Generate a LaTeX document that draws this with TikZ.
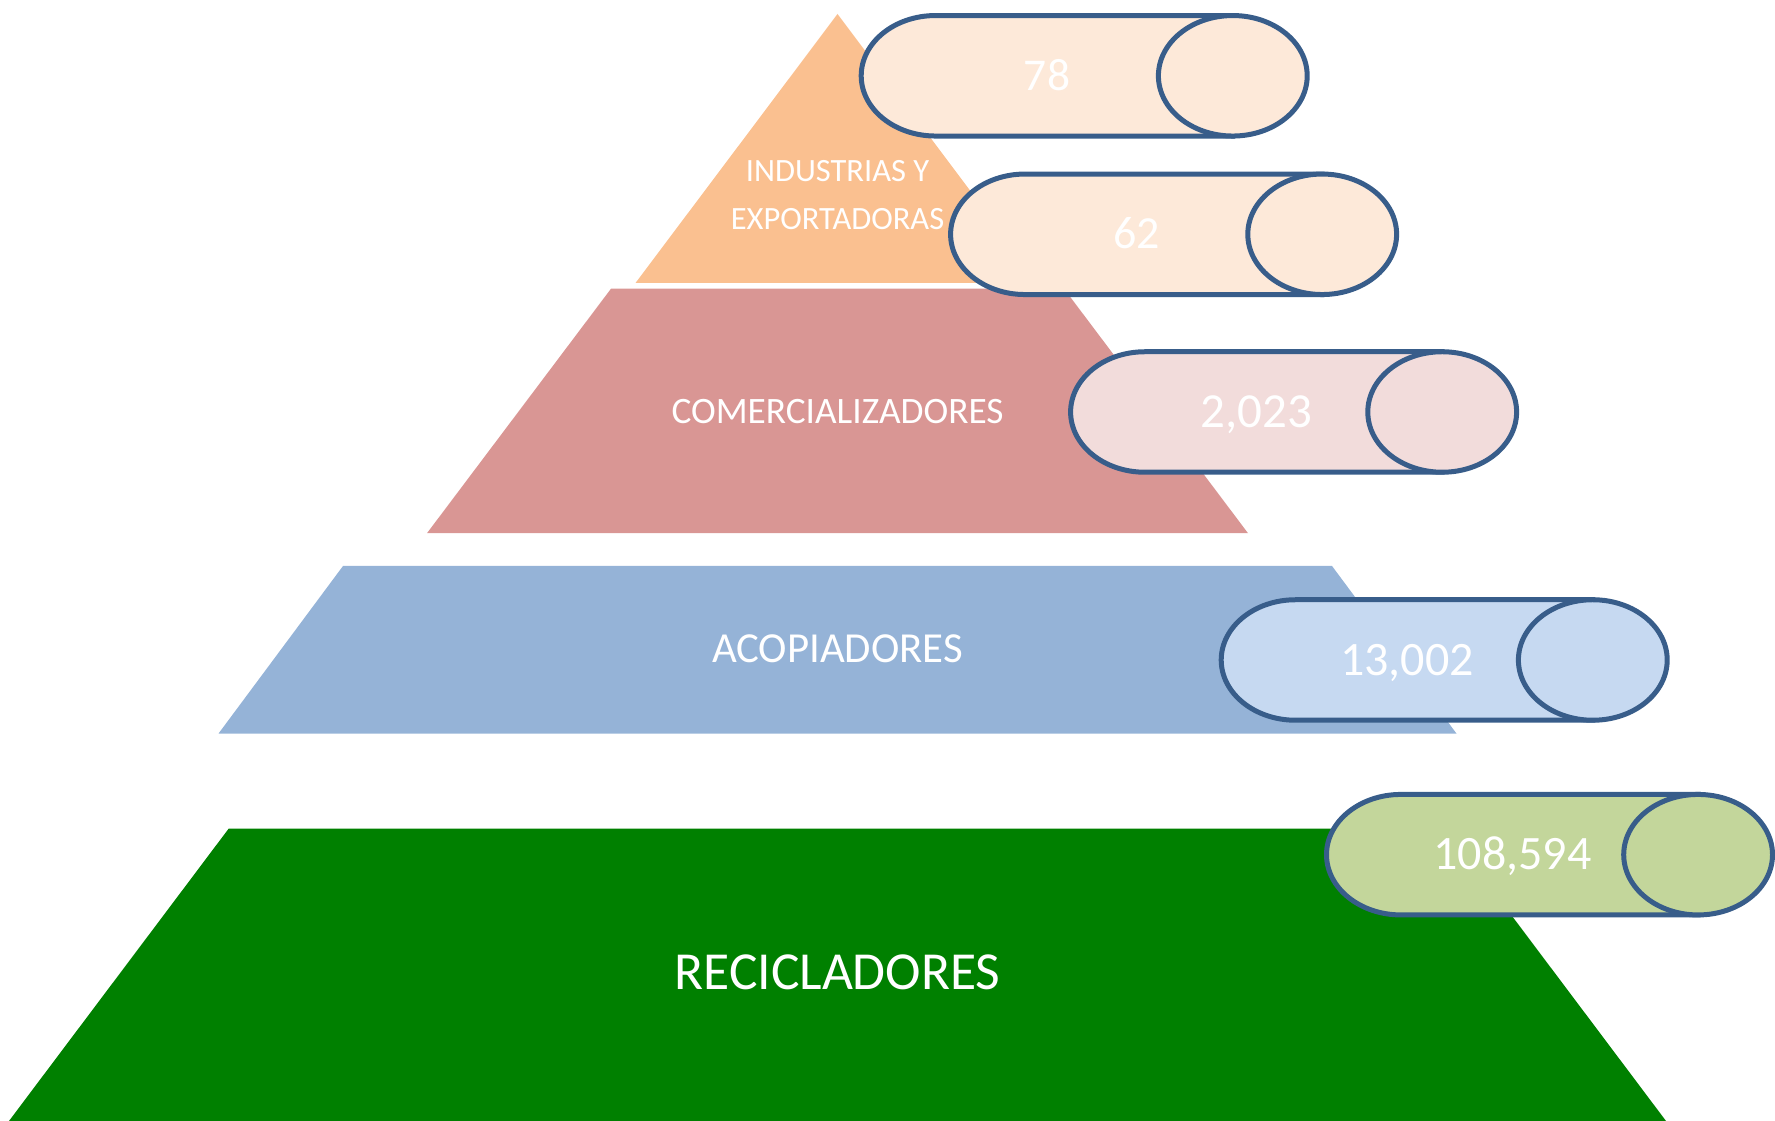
\documentclass[tikz,border=0pt]{standalone}
\usepackage{fontspec}
\setmainfont{Carlito}
\definecolor{tierA}{HTML}{FAC090}
\definecolor{tierB}{HTML}{D99694}
\definecolor{tierC}{HTML}{95B3D7}
\definecolor{tierD}{HTML}{008000}
\definecolor{capA}{HTML}{FDE9D9}
\definecolor{capB}{HTML}{F2DCDB}
\definecolor{capC}{HTML}{C6D9F1}
\definecolor{capD}{HTML}{C3D69B}
\definecolor{capline}{HTML}{385D8A}
\tikzset{
  tier/.style={draw=none},
  capsule/.style={draw=capline, line width=5pt},
  numtext/.style={text=white, anchor=base, inner sep=0pt},
  labtext/.style={text=white, anchor=base, inner sep=0pt}
}
% #1 left x, #2 centre y, #3 fill, #4 text, #5 node name, #6 font size
\newcommand\mycapsule[6]{%
  \draw[capsule, fill=#3] (#1+74.4,#2+60.25) arc[start angle=90, end angle=270, x radius=74.4, y radius=60.25]
     -- (#1+371.6,#2-60.25) -- (#1+371.6,#2+60.25) -- cycle;
  \draw[capsule, fill=#3] (#1+371.6,#2) ellipse[x radius=74.4, y radius=60.25];
  \node[numtext, font=\fontsize{#6}{#6}\selectfont] (#5) at (#1+185.8,#2-0.316*#6) {#4};
}
\begin{document}
\begin{tikzpicture}[x=1pt,y=1pt]
\useasboundingbox (0,0) rectangle (1775,1121);
% pyramid tiers
\fill[tierA] (837.5,1107) -- (1039.5,838) -- (635.5,838) -- cycle;
\fill[tierB] (611,832.3) -- (1064,832.3) -- (1248,587.8) -- (427,587.8) -- cycle;
\fill[tierC] (343,555) -- (1332,555) -- (1456.5,387.4) -- (218.5,387.4) -- cycle;
\fill[tierD] (228.7,292.4) -- (1446.3,292.4) -- (1666,0) -- (9,0) -- cycle;
% tier labels
\node[labtext, font=\fontsize{32.5}{40}\selectfont] (l1a) at (837.5,939.3) {INDUSTRIAS Y};
\node[labtext, font=\fontsize{32.5}{40}\selectfont] (l1b) at (837.5,891.7) {EXPORTADORAS};
\node[labtext, font=\fontsize{37.3}{44}\selectfont] (l2) at (837.5,697.7) {COMERCIALIZADORES};
\node[labtext, font=\fontsize{42.8}{50}\selectfont] (l3) at (837.5,458.3) {ACOPIADORES};
\node[labtext, font=\fontsize{53.5}{62}\selectfont] (l4) at (837.5,131) {RECICLADORES};
% capsules
\mycapsule{861.2}{1045.2}{capA}{78}{n1}{45.5}
\mycapsule{950.6}{886.7}{capA}{62}{n2}{46}
\mycapsule{1070.6}{709}{capB}{2,023}{n3}{49}
\mycapsule{1221.2}{461}{capC}{13,002}{n4}{48}
\mycapsule{1326.5}{266.3}{capD}{108,594}{n5}{48}
\end{tikzpicture}
\end{document}
